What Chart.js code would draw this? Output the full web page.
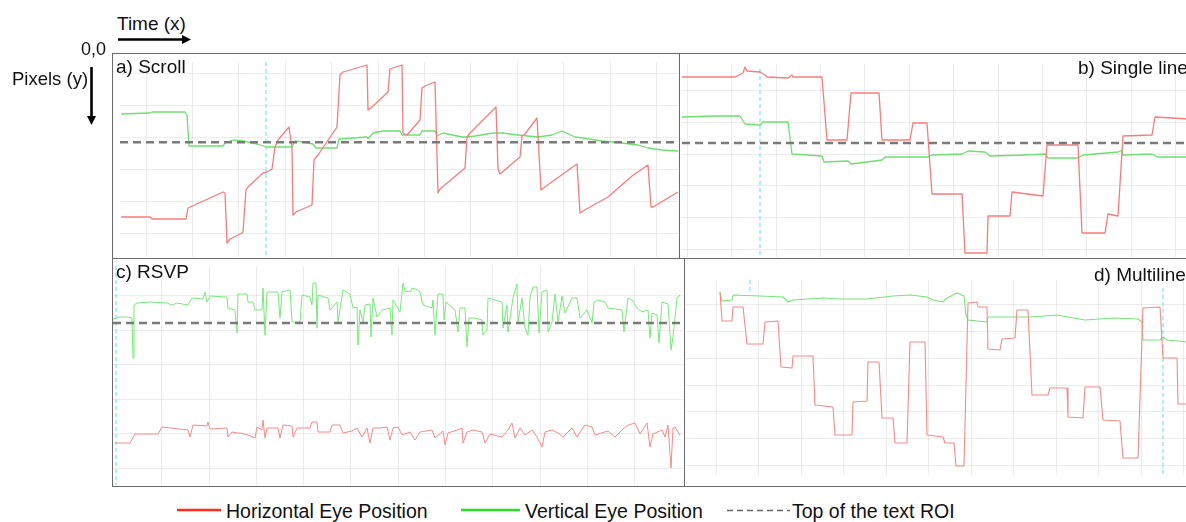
<!DOCTYPE html>
<html>
<head>
<meta charset="utf-8">
<script src="https://cdn.jsdelivr.net/npm/chart.js@4.4.1/dist/chart.umd.min.js"></script>
<style>
  html, body { margin: 0; padding: 0; width: 1186px; height: 522px; overflow: hidden; background: #fff; }
  body { position: relative; font-family: "Liberation Sans", Arial, Helvetica, sans-serif; color: #111; }
  .abs { position: absolute; }
  .txt { position: absolute; line-height: 1; white-space: nowrap; z-index: 3; }
  .box { position: absolute; border: 1.5px solid #6b6b6b; box-sizing: border-box; z-index: 2; }
  canvas { position: absolute; z-index: 1; }
</style>
</head>
<body>

<!-- panel frames -->
<div class="box" style="left:112px; top:53px; width:568px; height:206px;"></div>
<div class="box" style="left:679px; top:53px; width:540px; height:206px;"></div>
<div class="box" style="left:112px; top:258px; width:573px; height:229px;"></div>
<div class="box" style="left:684px; top:258px; width:540px; height:229px;"></div>

<canvas id="scroll" width="558" height="195" style="left:120px; top:62px;"></canvas>
<canvas id="single" width="558" height="193" style="left:682px; top:64px;"></canvas>
<canvas id="rsvp" width="570" height="219" style="left:113px; top:266px;"></canvas>
<canvas id="multi" width="556" height="195" style="left:686px; top:280px;"></canvas>

<!-- axis hints -->
<div class="txt" style="left:117px; top:14px; font-size:19px;">Time (x)</div>
<div class="txt" style="left:81px; top:40px; font-size:18px;">0,0</div>
<div class="txt" style="left:12px; top:70px; font-size:18.5px;">Pixels (y)</div>

<!-- panel titles -->
<div class="txt" style="left:116px; top:56.5px; font-size:19px;">a) Scroll</div>
<div class="txt" style="left:1078px; top:58px; font-size:19px;">b) Single line</div>
<div class="txt" style="left:116px; top:262px; font-size:19px;">c) RSVP</div>
<div class="txt" style="left:1094px; top:265px; font-size:19px;">d) Multiline</div>

<!-- legend -->
<div class="txt" style="left:226px; top:502px; font-size:19.5px;">Horizontal Eye Position</div>
<div class="txt" style="left:525px; top:502px; font-size:19.5px;">Vertical Eye Position</div>
<div class="txt" style="left:792px; top:502px; font-size:19.5px;">Top of the text ROI</div>

<svg class="abs" width="1186" height="522" style="left:0; top:0; z-index:4; pointer-events:none;">
  <line x1="118" y1="39.5" x2="183" y2="39.5" stroke="#000" stroke-width="2.6"/>
  <polygon points="182,35 191,39.5 182,44" fill="#000"/>
  <line x1="91.5" y1="67" x2="91.5" y2="117" stroke="#000" stroke-width="2.6"/>
  <polygon points="87,116 91.5,125 96,116" fill="#000"/>
  <line x1="177" y1="510" x2="221" y2="510" stroke="#ff2b1c" stroke-width="2.4"/>
  <line x1="461" y1="510" x2="520" y2="510" stroke="#2bdc2b" stroke-width="2.4"/>
  <line x1="727" y1="510.5" x2="790" y2="510.5" stroke="#666" stroke-width="1.4" stroke-dasharray="6,4"/>
</svg>

<script>
// a) Scroll  -- [time, y pixels]
const scrollHoriz = [[1,155],[30,155],[32,157],[66,157],[68,146],[103,130],[105,131],[107,181],[110,177],[122,171],[123,170],[126,128],[128,125],[143,111],[147,110],[152,107],[155,85],[158,78],[169,65],[172,86],[173,153],[176,150],[192,143],[194,98],[198,93],[217,65],[220,13],[223,10],[247,3],[248,48],[252,45],[268,30],[270,7],[282,3],[283,71],[287,73],[300,58],[302,26],[305,24],[315,20],[318,131],[320,127],[345,106],[347,75],[350,71],[376,45],[378,107],[380,112],[400,95],[402,74],[405,72],[417,56],[421,128],[422,127],[457,102],[460,151],[463,149],[488,135],[512,114],[528,103],[531,145],[533,145],[558,130]];
const scrollVert = [[1,52],[30,51],[32,50],[65,50],[67,53],[69,84],[103,84],[105,81],[113,78],[123,79],[137,82],[147,85],[155,85],[163,85],[172,85],[175,79],[183,80],[193,82],[196,86],[217,86],[219,77],[247,75],[248,77],[253,71],[263,69],[280,69],[282,73],[300,73],[302,69],[315,69],[317,74],[323,71],[342,75],[347,75],[355,74],[373,71],[382,71],[398,73],[418,75],[432,73],[442,69],[455,75],[463,76],[482,79],[502,81],[518,83],[528,86],[542,88],[558,89]];
const scrollRoi = 80.3;
const scrollMarkers = [[146, 0, 195]];
const scrollGridX = [26, 72.4, 118.8, 165.2, 211.6, 258, 304.4, 350.8, 397.2, 443.6, 490, 536.4];
const scrollGridY = [11.3, 43.3, 75.3, 107.3, 139.3, 171.3];

// b) Single line
const singleHoriz = [[0,13],[53,13],[61,9],[63,3],[65,7],[78,8],[83,11],[85,13],[106,14],[110,11],[111,13],[140,13],[145,76],[165,76],[169,29],[197,29],[200,76],[228,76],[231,59],[245,59],[250,130],[280,130],[283,189],[305,189],[306,152],[328,152],[330,128],[361,132],[365,81],[396,81],[400,169],[423,169],[426,150],[436,152],[441,72],[470,71],[473,53],[506,55]];
const singleVert = [[0,53],[33,52],[58,52],[63,60],[78,61],[81,58],[106,58],[110,90],[140,92],[142,98],[166,97],[169,100],[200,96],[203,93],[246,93],[250,91],[280,90],[286,87],[303,88],[308,92],[343,91],[363,90],[366,94],[396,94],[401,91],[436,88],[440,86],[441,91],[470,90],[475,93],[506,93]];
const singleRoi = 79;
const singleMarkers = [[78, 5, 193]];
const singleGridX = [5.3, 49.7, 94.1, 138.5, 182.9, 227.3, 271.7, 316.1, 360.5, 404.9, 449.3, 493.7, 538.1];
const singleGridY = [26.7, 58.4, 90.1, 121.8, 153.5, 185.2];

// c) RSVP
const rsvpHoriz = [[2,177],[17,177],[22,168],[45,168],[49,161],[75,164],[77,171],[80,159],[94,160],[95,156],[97,163],[114,162],[115,171],[119,166],[124,167],[127,167],[135,169],[142,172],[144,161],[149,164],[150,154],[152,172],[154,162],[165,162],[167,172],[170,159],[179,160],[180,171],[184,162],[197,162],[199,156],[204,156],[205,166],[217,166],[219,159],[227,159],[230,167],[239,165],[244,162],[249,171],[254,162],[257,177],[260,162],[267,162],[274,161],[277,174],[280,162],[285,161],[289,169],[297,166],[302,174],[307,166],[319,164],[322,172],[330,165],[332,179],[335,167],[344,164],[349,162],[350,177],[354,166],[360,164],[369,166],[372,177],[377,168],[389,171],[395,164],[399,157],[402,172],[407,162],[412,169],[419,164],[424,171],[429,181],[432,166],[439,164],[445,167],[450,171],[459,162],[464,171],[472,159],[479,161],[482,169],[495,165],[502,171],[509,164],[515,159],[522,157],[527,168],[534,157],[537,181],[540,168],[549,164],[552,171],[555,159],[558,202],[560,162],[562,161],[567,169]];
const rsvpVert = [[0,53],[7,51],[15,51],[19,52],[20,92],[21,39],[24,37],[37,36],[54,37],[59,39],[64,37],[75,39],[79,32],[90,33],[92,26],[94,36],[97,30],[114,31],[115,42],[122,44],[124,67],[125,28],[134,28],[135,36],[140,36],[142,44],[149,44],[150,22],[152,69],[154,26],[165,26],[167,52],[169,26],[177,24],[179,56],[187,56],[189,29],[197,31],[199,39],[200,17],[203,17],[204,62],[205,29],[215,32],[217,44],[224,36],[225,56],[230,24],[237,28],[240,42],[244,41],[245,79],[247,44],[250,56],[252,39],[257,38],[258,71],[260,32],[264,51],[269,44],[277,42],[279,69],[280,34],[287,46],[290,17],[292,25],[297,26],[299,22],[305,24],[307,26],[310,39],[319,42],[320,34],[322,69],[325,28],[330,28],[331,54],[333,36],[342,44],[345,66],[347,42],[352,42],[354,81],[356,52],[362,52],[369,54],[370,69],[374,64],[375,32],[389,36],[390,62],[394,39],[395,66],[400,32],[404,18],[405,56],[409,32],[412,62],[415,69],[417,31],[420,21],[424,21],[426,67],[429,26],[434,24],[435,66],[439,56],[442,28],[445,56],[449,30],[452,47],[459,32],[464,32],[467,52],[474,44],[479,57],[481,36],[485,34],[492,36],[495,42],[509,44],[511,66],[515,32],[519,34],[524,42],[529,46],[535,44],[537,72],[539,47],[544,49],[546,77],[549,36],[555,38],[558,84],[560,71],[564,32],[567,29]];
const rsvpRoi = 57;
const rsvpMarkers = [[3, 0, 219]];
const rsvpGridX = [48.7, 96, 143.3, 190.6, 237.9, 285.2, 332.5, 379.8, 427.1, 474.4, 521.7];
const rsvpGridY = [29.7, 64.2, 98.7, 133.2, 167.7, 202.2];

// d) Multiline
const multiHoriz = [[34,12],[36,41],[46,41],[47,27],[57,27],[61,64],[77,64],[79,42],[92,41],[95,87],[106,88],[107,76],[127,76],[129,125],[147,127],[149,155],[166,155],[167,122],[181,121],[182,82],[193,82],[196,138],[207,138],[209,163],[221,163],[224,62],[239,62],[241,155],[257,157],[259,163],[268,163],[270,186],[278,186],[282,23],[291,22],[292,27],[301,27],[302,69],[314,70],[316,59],[329,58],[331,30],[342,30],[346,115],[362,115],[364,108],[381,108],[382,137],[397,138],[399,107],[414,107],[417,140],[434,141],[437,178],[452,178],[457,28],[474,27],[477,78],[491,78],[492,124],[502,124]];
const multiVert = [[34,12],[36,21],[46,20],[47,15],[74,16],[97,17],[102,22],[107,20],[137,18],[154,19],[181,19],[207,16],[224,15],[241,17],[247,20],[257,22],[261,18],[271,13],[278,16],[280,35],[282,40],[301,42],[302,37],[327,37],[344,37],[371,35],[399,40],[427,38],[452,39],[456,42],[457,60],[474,60],[477,57],[481,60],[502,62]];
const multiRoi = null;
const multiMarkers = [[64, 0, 14], [477, 8, 195]];
const multiGridX = [30, 72.5, 115, 157.5, 200, 242.5, 285, 327.5, 370, 412.5, 455, 497.5, 540];
const multiGridY = [24.3, 51.2, 78.1, 105, 131.9, 158.8, 185.7];

const GRID = 'rgba(0,0,0,0.075)';

function toPoints(arr) {
    return arr.map(p => ({ x: p[0], y: p[1] }));
}

function makePanel(id, o) {
    const canvas = document.getElementById(id);
    const w = canvas.width, h = canvas.height;
    const datasets = [];

    if (o.roi !== null) {
        datasets.push({
            data: [{ x: 0, y: o.roi }, { x: w, y: o.roi }],
            borderColor: '#7a7a7a', borderWidth: 2.4, borderDash: [8, 5]
        });
    }
    datasets.push({ data: toPoints(o.horiz), borderColor: o.red, borderWidth: o.lw });
    datasets.push({ data: toPoints(o.vert), borderColor: o.green, borderWidth: o.lw });
    o.markers.forEach(m => {
        datasets.push({
            data: [{ x: m[0], y: m[1] }, { x: m[0], y: m[2] }],
            borderColor: '#86e6f0', borderWidth: 1.3, borderDash: [4, 3]
        });
    });

    const axis = (grid, max, rev) => ({
        type: 'linear', min: 0, max: max, reverse: rev,
        ticks: { display: false },
        grid: { color: GRID, drawTicks: false, lineWidth: 1 },
        border: { display: false },
        afterBuildTicks: s => { s.ticks = grid.map(v => ({ value: v })); }
    });

    new Chart(canvas, {
        type: 'line',
        data: { datasets: datasets },
        options: {
            responsive: false,
            animation: false,
            events: [],
            layout: { padding: 0 },
            elements: { point: { radius: 0 }, line: { tension: 0, borderJoinStyle: 'round' } },
            plugins: { legend: { display: false }, tooltip: { enabled: false } },
            scales: {
                x: axis(o.gridX, w, false),
                y: axis(o.gridY, h, true)
            }
        }
    });
}

makePanel('scroll', { horiz: scrollHoriz, vert: scrollVert, roi: scrollRoi, markers: scrollMarkers,
    gridX: scrollGridX, gridY: scrollGridY, red: '#f47d7d', green: '#6fdf6f', lw: 1.3 });
makePanel('single', { horiz: singleHoriz, vert: singleVert, roi: singleRoi, markers: singleMarkers,
    gridX: singleGridX, gridY: singleGridY, red: '#f47d7d', green: '#6fdf6f', lw: 1.3 });
makePanel('rsvp', { horiz: rsvpHoriz, vert: rsvpVert, roi: rsvpRoi, markers: rsvpMarkers,
    gridX: rsvpGridX, gridY: rsvpGridY, red: '#f48a8a', green: '#79e879', lw: 1 });
makePanel('multi', { horiz: multiHoriz, vert: multiVert, roi: multiRoi, markers: multiMarkers,
    gridX: multiGridX, gridY: multiGridY, red: '#f48a8a', green: '#79e379', lw: 1.1 });
</script>
</body>
</html>
